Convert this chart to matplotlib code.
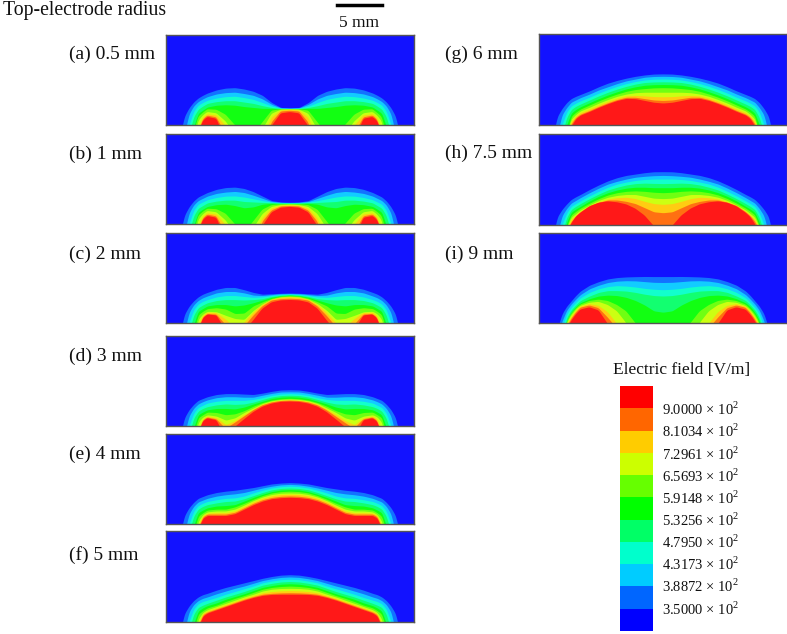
import numpy as np
import matplotlib
matplotlib.use('Agg')
import matplotlib.pyplot as plt

plt.rcParams['font.family'] = ['Liberation Serif', 'DejaVu Serif']
plt.rcParams['mathtext.fontset'] = 'custom'
plt.rcParams['mathtext.rm'] = 'Liberation Serif'

W, H = 787, 634

# distance from the panel centre in mm, every contour row below is read at these
radius_mm = [0, 1, 2, 3, 4, 5, 6, 7, 8, 9, 9.5, 10, 10.5, 11, 11.5, 12]

# contour heights in mm, lowest field level first. negative = contour is under the bottom edge
panel_a = [
    [1.9, 1.95, 2.5, 3.3, 3.75, 4.0, 4.15, 4.1, 3.9, 3.55, 3.3, 3.0, 2.55, 1.9, 0.95, -1.3],
    [1.87, 1.9, 2.3, 2.9, 3.3, 3.5, 3.65, 3.6, 3.45, 3.15, 2.9, 2.6, 2.1, 1.2, -1, -3],
    [1.85, 1.87, 2.1, 2.5, 2.85, 3.05, 3.2, 3.15, 3.0, 2.75, 2.5, 2.2, 1.5, 0, -1.5, -3],
    [1.82, 1.84, 1.95, 2.15, 2.4, 2.55, 2.7, 2.7, 2.6, 2.4, 2.1, 1.75, 0.9, -1, -3, -3],
    [1.8, 1.8, 1.85, 1.85, 1.95, 2.05, 2.2, 2.25, 2.2, 2.0, 1.65, 1.3, -0.2, -2, -3, -3],
    [1.78, 1.75, 1.6, 0.3, -1, -1, 0, 1.15, 1.7, 1.75, 1.35, 0.9, -1, -3, -3, -3],
    [1.72, 1.7, 1.25, -0.5, -3, -3, -1, 0.4, 1.3, 1.45, 1.05, 0.4, -2, -3, -3, -3],
    [1.68, 1.6, 0.8, -1.5, -3, -3, -3, -0.1, 1.05, 1.2, 0.75, -0.5, -3, -3, -3, -3],
    [1.58, 1.5, 0.3, -3, -3, -3, -3, -1.0, 0.85, 1.05, 0.6, -0.9, -3, -3, -3, -3],
    [1.44, 1.3, -0.1, -3, -3, -3, -3, -1.8, 0.7, 0.9, 0.45, -1, -3, -3, -3, -3],
]
panel_b = [
    [2.42, 2.45, 2.6, 3.1, 3.6, 3.95, 4.1, 4.05, 3.85, 3.5, 3.25, 3.0, 2.55, 1.9, 0.95, -1.3],
    [2.38, 2.4, 2.5, 2.85, 3.2, 3.5, 3.62, 3.55, 3.4, 3.1, 2.85, 2.6, 2.1, 1.2, -1, -3],
    [2.35, 2.37, 2.43, 2.6, 2.8, 3.0, 3.12, 3.1, 2.95, 2.7, 2.45, 2.2, 1.5, 0, -1.5, -3],
    [2.32, 2.33, 2.37, 2.4, 2.45, 2.5, 2.65, 2.65, 2.55, 2.35, 2.05, 1.75, 0.9, -1, -3, -3],
    [2.28, 2.28, 2.3, 2.2, 1.9, 1.8, 2.05, 2.2, 2.15, 1.95, 1.65, 1.3, -0.2, -2, -3, -3],
    [2.22, 2.2, 2.1, 1.6, 0.3, -1, 0, 1.15, 1.65, 1.7, 1.35, 0.9, -1, -3, -3, -3],
    [2.15, 2.1, 1.9, 1.1, -0.5, -3, -1, 0.4, 1.3, 1.45, 1.05, 0.4, -2, -3, -3, -3],
    [2.08, 2.03, 1.7, 0.6, -1.5, -3, -3, -0.1, 1.05, 1.2, 0.75, -0.5, -3, -3, -3, -3],
    [2.0, 1.95, 1.5, 0.25, -3, -3, -3, -1, 0.85, 1.05, 0.6, -0.9, -3, -3, -3, -3],
    [1.9, 1.82, 1.3, -0.2, -3, -3, -3, -1.8, 0.7, 0.9, 0.45, -1, -3, -3, -3, -3],
]
panel_c = [
    [3.33, 3.3, 3.25, 3.2, 3.4, 3.7, 3.95, 3.95, 3.75, 3.4, 3.2, 2.9, 2.45, 1.85, 0.95, -1.3],
    [3.27, 3.25, 3.15, 3.05, 3.1, 3.35, 3.5, 3.5, 3.35, 3.0, 2.8, 2.5, 2.0, 1.15, -1, -3],
    [3.2, 3.15, 3.05, 2.9, 2.85, 2.95, 3.05, 3.05, 2.9, 2.6, 2.4, 2.1, 1.45, 0, -1.5, -3],
    [3.15, 3.1, 2.95, 2.7, 2.6, 2.55, 2.6, 2.6, 2.5, 2.25, 2.0, 1.7, 0.85, -1, -3, -3],
    [3.1, 3.02, 2.85, 2.55, 2.25, 2.0, 1.9, 2.05, 2.05, 1.9, 1.6, 1.3, -0.2, -2, -3, -3],
    [3.05, 2.98, 2.75, 2.35, 1.9, 1.1, 1.05, 1.55, 1.7, 1.6, 1.3, 0.9, -1, -3, -3, -3],
    [2.95, 2.9, 2.65, 2.15, 1.4, 0.4, 0.5, 0.85, 1.25, 1.3, 1.0, 0.4, -2, -3, -3, -3],
    [2.85, 2.8, 2.6, 2, 1.1, 0, -0.5, 0.4, 1.1, 1.15, 0.75, -0.5, -3, -3, -3, -3],
    [2.7, 2.65, 2.5, 1.85, 0.8, -0.4, -3, -0.2, 0.95, 1.0, 0.6, -0.9, -3, -3, -3, -3],
    [2.56, 2.52, 2.3, 1.6, 0.3, -0.9, -3, -0.8, 0.85, 0.95, 0.5, -1, -3, -3, -3, -3],
]
panel_d = [
    [4.03, 4, 3.85, 3.65, 3.5, 3.55, 3.6, 3.6, 3.5, 3.25, 3.05, 2.85, 2.4, 1.8, 0.9, -1.3],
    [3.8, 3.78, 3.62, 3.42, 3.2, 3.2, 3.25, 3.25, 3.15, 2.9, 2.7, 2.45, 1.95, 1.1, -1, -3],
    [3.6, 3.55, 3.4, 3.15, 2.95, 2.85, 2.85, 2.85, 2.75, 2.55, 2.3, 2.05, 1.4, 0, -1.5, -3],
    [3.42, 3.38, 3.22, 2.95, 2.65, 2.45, 2.4, 2.45, 2.35, 2.15, 1.95, 1.65, 0.85, -1, -3, -3],
    [3.25, 3.2, 3.05, 2.75, 2.45, 2.1, 1.9, 1.95, 1.95, 1.8, 1.55, 1.25, -0.2, -2, -3, -3],
    [3.08, 3.03, 2.88, 2.6, 2.2, 1.7, 1.35, 1.25, 1.5, 1.55, 1.25, 0.9, -1, -3, -3, -3],
    [3, 2.95, 2.8, 2.5, 2, 1.5, 0.9, 0.65, 1.1, 1.25, 1.0, 0.4, -2, -3, -3, -3],
    [2.9, 2.85, 2.7, 2.4, 1.85, 1.25, 0.6, 0.15, 0.9, 1.1, 0.75, -0.5, -3, -3, -3, -3],
    [2.82, 2.78, 2.62, 2.3, 1.75, 1.05, 0.35, -0.3, 0.75, 0.95, 0.6, -0.9, -3, -3, -3, -3],
    [2.72, 2.68, 2.5, 2.15, 1.55, 0.75, -0.1, -1.3, 0.65, 0.87, 0.5, -1, -3, -3, -3, -3],
]
panel_e = [
    [4.6, 4.55, 4.45, 4.25, 4.05, 3.9, 3.75, 3.65, 3.5, 3.25, 3.05, 2.85, 2.4, 1.8, 0.9, -1.3],
    [4.4, 4.35, 4.2, 4, 3.75, 3.5, 3.35, 3.25, 3.1, 2.85, 2.65, 2.45, 1.95, 1.1, -1, -3],
    [4.2, 4.15, 4, 3.75, 3.45, 3.1, 2.9, 2.85, 2.7, 2.5, 2.3, 2.05, 1.4, 0, -1.5, -3],
    [4, 3.95, 3.8, 3.5, 3.15, 2.8, 2.55, 2.5, 2.35, 2.15, 1.95, 1.65, 0.85, -1, -3, -3],
    [3.82, 3.78, 3.6, 3.3, 2.95, 2.55, 2.15, 2.05, 2, 1.8, 1.55, 1.25, -0.2, -2, -3, -3],
    [3.65, 3.6, 3.45, 3.15, 2.75, 2.3, 1.9, 1.65, 1.65, 1.55, 1.25, 0.85, -1, -3, -3, -3],
    [3.45, 3.42, 3.28, 3, 2.6, 2.1, 1.65, 1.45, 1.45, 1.35, 1.05, 0.3, -2, -3, -3, -3],
    [3.3, 3.27, 3.12, 2.85, 2.45, 1.95, 1.45, 1.25, 1.25, 1.2, 0.95, -0.2, -3, -3, -3, -3],
    [3.12, 3.08, 2.95, 2.7, 2.3, 1.8, 1.3, 1.1, 1.1, 1.1, 0.8, -0.4, -3, -3, -3, -3],
    [2.97, 2.93, 2.82, 2.55, 2.15, 1.65, 1.15, 0.95, 0.95, 0.95, 0.65, -0.6, -3, -3, -3, -3],
]
panel_f = [
    [5.2, 5.15, 5, 4.8, 4.55, 4.3, 4.05, 3.8, 3.5, 3.15, 3.0, 2.75, 2.35, 1.75, 0.9, -1.3],
    [4.95, 4.9, 4.75, 4.55, 4.25, 3.95, 3.7, 3.4, 3.1, 2.75, 2.6, 2.35, 1.9, 1.1, -1, -3],
    [4.7, 4.65, 4.5, 4.3, 3.95, 3.65, 3.35, 3.05, 2.7, 2.4, 2.25, 2.0, 1.4, 0, -1.5, -3],
    [4.45, 4.4, 4.25, 4.05, 3.7, 3.35, 3.05, 2.75, 2.4, 2.05, 1.85, 1.6, 0.85, -1, -3, -3],
    [4.2, 4.15, 4, 3.8, 3.45, 3.1, 2.8, 2.5, 2.1, 1.8, 1.55, 1.2, -0.2, -2, -3, -3],
    [3.95, 3.9, 3.8, 3.6, 3.25, 2.9, 2.6, 2.25, 1.85, 1.55, 1.25, 0.85, -1, -3, -3, -3],
    [3.7, 3.68, 3.6, 3.4, 3.05, 2.75, 2.4, 2.05, 1.7, 1.35, 1.05, 0.3, -2, -3, -3, -3],
    [3.45, 3.42, 3.35, 3.2, 2.9, 2.6, 2.25, 1.9, 1.55, 1.2, 0.95, -0.2, -3, -3, -3, -3],
    [3.22, 3.2, 3.15, 3.05, 2.8, 2.5, 2.15, 1.8, 1.45, 1.1, 0.8, -0.4, -3, -3, -3, -3],
    [3.05, 3.05, 3.03, 2.93, 2.7, 2.4, 2.05, 1.7, 1.35, 1.0, 0.65, -0.6, -3, -3, -3, -3],
]
panel_g = [
    [5.62, 5.6, 5.5, 5.35, 5.15, 4.9, 4.6, 4.2, 3.75, 3.35, 3.15, 2.9, 2.45, 1.8, 0.95, -1.3],
    [5.35, 5.33, 5.25, 5.05, 4.85, 4.55, 4.2, 3.85, 3.4, 3.0, 2.75, 2.5, 1.9, 1.1, -1, -3],
    [5.05, 5.03, 4.95, 4.78, 4.55, 4.25, 3.9, 3.5, 3.05, 2.65, 2.4, 2.1, 1.4, 0, -1.5, -3],
    [4.75, 4.73, 4.67, 4.5, 4.25, 3.95, 3.6, 3.2, 2.75, 2.3, 2.05, 1.7, 0.8, -1, -3, -3],
    [4.45, 4.43, 4.37, 4.2, 3.97, 3.65, 3.3, 2.9, 2.45, 2.0, 1.7, 1.3, 0, -2, -3, -3],
    [4.1, 4.08, 4, 3.9, 3.7, 3.4, 3.05, 2.65, 2.2, 1.75, 1.4, 0.95, -1, -3, -3, -3],
    [3.6, 3.6, 3.6, 3.55, 3.4, 3.15, 2.8, 2.4, 1.95, 1.55, 1.15, 0.65, -1, -3, -3, -3],
    [3.1, 3.12, 3.2, 3.25, 3.2, 2.95, 2.6, 2.2, 1.75, 1.35, 1.0, 0.4, -1, -3, -3, -3],
    [2.7, 2.75, 2.9, 3.05, 3.05, 2.8, 2.45, 2.05, 1.6, 1.2, 0.85, 0.15, -1.5, -3, -3, -3],
    [2.42, 2.5, 2.7, 2.9, 2.93, 2.7, 2.35, 1.95, 1.5, 1.1, 0.7, -0.1, -1.5, -3, -3, -3],
]
panel_h = [
    [5.86, 5.85, 5.75, 5.6, 5.45, 5.2, 4.85, 4.4, 3.9, 3.35, 3.1, 2.8, 2.3, 1.7, 0.9, -1.3],
    [5.45, 5.42, 5.35, 5.25, 5.05, 4.8, 4.5, 4.05, 3.55, 3.0, 2.7, 2.4, 1.8, 1, -1, -3],
    [5.05, 5.05, 5, 4.9, 4.72, 4.5, 4.15, 3.7, 3.2, 2.65, 2.35, 2.05, 1.3, 0, -1.5, -3],
    [4.55, 4.57, 4.6, 4.55, 4.4, 4.15, 3.85, 3.4, 2.9, 2.35, 2.05, 1.7, 0.8, -1, -3, -3],
    [4.1, 4.1, 4.15, 4.15, 4.05, 3.85, 3.55, 3.15, 2.65, 2.05, 1.75, 1.4, 0.3, -2, -3, -3],
    [3.55, 3.6, 3.7, 3.75, 3.7, 3.55, 3.3, 2.9, 2.4, 1.85, 1.5, 1.1, -0.1, -3, -3, -3],
    [2.9, 2.95, 3.15, 3.35, 3.35, 3.25, 3.05, 2.7, 2.2, 1.65, 1.25, 0.85, -0.3, -3, -3, -3],
    [2.27, 2.35, 2.6, 2.9, 3.05, 3, 2.85, 2.55, 2.1, 1.5, 1.1, 0.6, -0.5, -3, -3, -3],
    [1.35, 1.45, 1.9, 2.35, 2.6, 2.75, 2.75, 2.5, 2.15, 1.45, 1.0, 0.4, -0.7, -3, -3, -3],
    [-0.8, -0.1, 1.05, 1.8, 2.27, 2.5, 2.6, 2.45, 2.05, 1.35, 0.9, 0.15, -1, -3, -3, -3],
]
panel_i = [
    [5.16, 5.16, 5.17, 5.15, 5.12, 5.05, 4.9, 4.6, 4.2, 3.55, 3.05, 2.45, 1.85, 1.0, -0.6, -2],
    [4.5, 4.52, 4.6, 4.68, 4.7, 4.65, 4.5, 4.2, 3.8, 3.15, 2.65, 2.1, 1.4, 0.2, -1.5, -3],
    [3.7, 3.75, 3.85, 4, 4.1, 4.15, 4.05, 3.8, 3.4, 2.8, 2.3, 1.75, 1.0, -0.5, -3, -3],
    [3.0, 3.05, 3.2, 3.4, 3.55, 3.6, 3.6, 3.4, 3.0, 2.5, 2.0, 1.45, 0.6, -1.5, -3, -3],
    [1.2, 1.35, 2, 2.5, 2.85, 3.05, 3.1, 3.0, 2.7, 2.25, 1.8, 1.2, 0.3, -3, -3, -3],
    [-2, -2, -1, 0, 1.3, 2.0, 2.45, 2.6, 2.45, 2.05, 1.6, 1.0, 0.1, -3, -3, -3],
    [-3, -3, -3, -3, 0, 1.3, 2.0, 2.35, 2.25, 1.9, 1.45, 0.8, -0.1, -3, -3, -3],
    [-3, -3, -3, -3, -1.2, -0.1, 1.2, 1.9, 2.1, 1.8, 1.3, 0.6, -0.3, -3, -3, -3],
    [-3, -3, -3, -3, -3, -0.6, 0.6, 1.65, 1.95, 1.7, 1.15, 0.45, -0.5, -3, -3, -3],
    [-3, -3, -3, -3, -3, -1.5, -0.1, 1.4, 1.75, 1.5, 0.95, 0.25, -0.8, -3, -3, -3],
]

panel_names = ['(a) 0.5 mm', '(b) 1 mm', '(c) 2 mm', '(d) 3 mm', '(e) 4 mm', '(f) 5 mm',
               '(g) 6 mm', '(h) 7.5 mm', '(i) 9 mm']
panel_rows = [panel_a, panel_b, panel_c, panel_d, panel_e, panel_f, panel_g, panel_h, panel_i]
# left, top, bottom in pixels
panel_boxes = [(166, 35, 125), (166, 134, 224), (166, 233, 323), (166, 336, 426), (166, 434, 524),
               (166, 531, 622), (539, 34, 125), (539, 134, 225), (539, 233, 323)]
name_spots = [(69, 54), (69, 154), (69, 254), (69, 356), (69, 454), (69, 555), (445, 54), (445, 153), (445, 254)]

level_labels = ['3.5000', '3.8872', '4.3173', '4.7950', '5.3256', '5.9148', '6.5693', '7.2961', '8.1034', '9.0000']
band_colors = ['#0000ff', '#0066ff', '#00ccff', '#00ffcc', '#00ff66', '#00ff00',
               '#66ff00', '#ccff00', '#ffcc00', '#ff6600', '#ff0000']
field_colors = ['#1212ff', '#1272ff', '#12ccff', '#12ffcc', '#12ff70', '#12ff12',
                '#70ff12', '#ccff12', '#ffcc12', '#ff7012', '#ff1818']


def px_axes(left, top, right, bottom):
    return fig.add_axes([left / W, 1 - bottom / H, (right - left) / W, (bottom - top) / H])


def px_text(x, y, s, **kw):
    fig.text(x / W, 1 - y / H, s, va='center', color='#111111', **kw)


fig = plt.figure(figsize=(W / 100, H / 100), dpi=100)

fine = np.arange(-14, 14.001, 0.05)
kernel = np.ones(5) / 5
for rows, (left, top, bottom), name, spot in zip(panel_rows, panel_boxes, panel_names, name_spots):
    ax = px_axes(left, top, left + 248, bottom)
    ax.set_facecolor(field_colors[0])
    for row, color in zip(rows, field_colors[1:]):
        y = np.interp(np.abs(fine), radius_mm, row)
        # round off the corners of the read-off polyline
        y = np.convolve(np.convolve(y, kernel, mode='same'), kernel, mode='same')
        ax.fill_between(fine, 0, y, where=y > 0, color=color, lw=0, interpolate=True)
    ax.set_xlim(-13.5, 13.5)
    ax.set_ylim(0, 10)
    ax.set_xticks([])
    ax.set_yticks([])
    for side in ax.spines.values():
        side.set_color('#555555')
        side.set_linewidth(1.0)
    px_text(spot[0], spot[1], name, fontsize=14)

px_text(3, 10, 'Top-electrode radius', fontsize=14.2)
px_text(359, 23, '5 mm', fontsize=12.5, ha='center')
fig.add_artist(plt.Line2D([337 / W, 382 / W], [1 - 5 / H, 1 - 5 / H], color='black', lw=2.5))

px_text(613, 370, 'Electric field [V/m]', fontsize=12.5)
bar = px_axes(620, 386, 653, 631)
bar.bar([0] * len(band_colors), [1] * len(band_colors), bottom=np.arange(len(band_colors)),
        width=1, color=band_colors)
bar.set_xlim(-0.5, 0.5)
bar.set_ylim(0, len(band_colors))
bar.axis('off')
for i, lab in enumerate(level_labels):
    px_text(662, 609 - i * 22.15, lab + r' $\times$ 10$^{2}$', fontsize=10.5)

fig.savefig('out.png', dpi=100)
